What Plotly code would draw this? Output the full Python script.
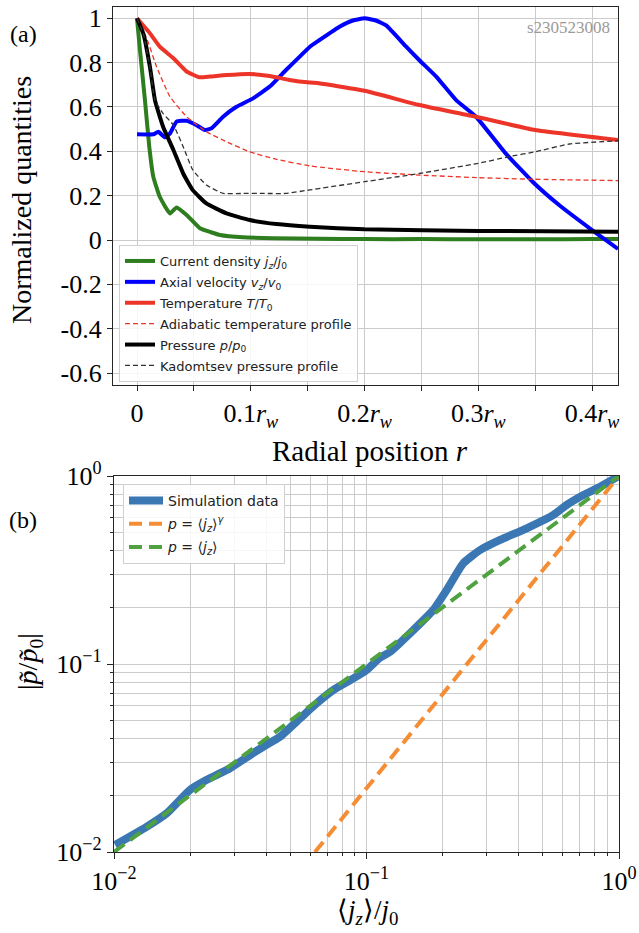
import plotly.graph_objects as go

# ---------------- panel (a) data ----------------
r_j = [0, 0.0026, 0.007, 0.0108, 0.0143, 0.020, 0.029, 0.0348, 0.0436, 0.0553, 0.065, 0.073,
       0.093, 0.12, 0.16, 0.2, 0.25, 0.3, 0.35, 0.4, 0.4228]
j_norm = [1.0, 0.857, 0.63, 0.42, 0.286, 0.195, 0.12, 0.147, 0.113, 0.053, 0.035, 0.0225,
          0.012, 0.008, 0.006, 0.004, 0.004, 0.003, 0.003, 0.004, 0.004]

r_v = [0, 0.0143, 0.0187, 0.0246, 0.029, 0.0348, 0.0436, 0.052, 0.0596, 0.0655, 0.0757, 0.0874,
       0.102, 0.1167, 0.131, 0.143, 0.152, 0.1605, 0.178, 0.1897, 0.2, 0.21, 0.219, 0.2366,
       0.248, 0.263, 0.2805, 0.298, 0.324, 0.3477, 0.371, 0.40, 0.4228]
v_norm = [0.477, 0.477, 0.488, 0.463, 0.481, 0.534, 0.538, 0.519, 0.496, 0.504, 0.556, 0.601,
          0.639, 0.692, 0.767, 0.827, 0.872, 0.902, 0.962, 0.99, 1.0, 0.99, 0.968, 0.872,
          0.812, 0.737, 0.631, 0.556, 0.391, 0.263, 0.158, 0.045, -0.04]

r_T = [0, 0.0114, 0.020, 0.032, 0.0436, 0.055, 0.064, 0.0787, 0.099, 0.1167, 0.134, 0.152,
       0.16, 0.2, 0.248, 0.298, 0.35, 0.4228]
T_norm = [1.0, 0.932, 0.872, 0.82, 0.76, 0.734, 0.737, 0.744, 0.749, 0.74, 0.722, 0.71,
          0.707, 0.673, 0.609, 0.556, 0.496, 0.451]

r_Tad = [0, 0.0085, 0.0173, 0.029, 0.0436, 0.061, 0.0787, 0.099, 0.1225, 0.152, 0.2, 0.248,
         0.3, 0.35, 0.4228]
Tad_norm = [1.0, 0.91, 0.78, 0.646, 0.556, 0.488, 0.443, 0.398, 0.364, 0.334, 0.308, 0.293,
            0.281, 0.274, 0.268]

r_p = [0, 0.0056, 0.0114, 0.0158, 0.023, 0.032, 0.0406, 0.049, 0.061, 0.0787, 0.099, 0.1225,
       0.152, 0.2, 0.3, 0.4228]
p_norm = [1.0, 0.93, 0.78, 0.63, 0.51, 0.406, 0.30, 0.225, 0.165, 0.12, 0.09, 0.072,
          0.06, 0.048, 0.041, 0.037]

r_pk = [0, 0.0056, 0.0114, 0.0158, 0.023, 0.032, 0.0406, 0.049, 0.061, 0.0757, 0.093, 0.111,
        0.131, 0.152, 0.2, 0.248, 0.3, 0.327, 0.35, 0.38, 0.4228]
pk_norm = [1.0, 0.93, 0.78, 0.63, 0.57, 0.519, 0.421, 0.316, 0.248, 0.21, 0.21, 0.21,
           0.21, 0.226, 0.263, 0.30, 0.346, 0.376, 0.398, 0.433, 0.448]

xa_tickvals = [0, 0.1, 0.2, 0.3, 0.4]
xa_ticktext = ["0", "0.1<i>r<sub>w</sub></i>", "0.2<i>r<sub>w</sub></i>",
               "0.3<i>r<sub>w</sub></i>", "0.4<i>r<sub>w</sub></i>"]
xa_minor = [0.05, 0.15, 0.25, 0.35]
ya_tickvals = [-0.6, -0.4, -0.2, 0, 0.2, 0.4, 0.6, 0.8, 1.0]
ya_ticktext = ["-0.6", "-0.4", "-0.2", "0", "0.2", "0.4", "0.6", "0.8", "1"]

# ---------------- panel (b) data ----------------
jz_sim = [0.0101, 0.0135, 0.0162, 0.0200, 0.0233, 0.0288, 0.0346, 0.0390, 0.0454, 0.0546,
          0.0635, 0.0740, 0.0887, 0.100, 0.113, 0.124, 0.149, 0.184, 0.208, 0.242, 0.282,
          0.338, 0.431, 0.550, 0.621, 0.723, 0.841, 1.0]
p_sim = [0.0109, 0.01365, 0.0161, 0.0214, 0.0242, 0.0279, 0.0328, 0.0363, 0.0410, 0.0514,
         0.0618, 0.0728, 0.0839, 0.0929, 0.108, 0.116, 0.146, 0.194, 0.248, 0.344, 0.404,
         0.457, 0.527, 0.621, 0.702, 0.792, 0.877, 1.0]
jz_gamma = [0.0625, 1.0]
p_gamma = [0.01, 1.0]
jz_lin = [0.01, 1.0]
p_lin = [0.01, 1.0]

b_major = [0.01, 0.1, 1]
b_major_text = ["10<sup>−2</sup>", "10<sup>−1</sup>", "10<sup>0</sup>"]
b_minor = [k * 0.01 for k in range(2, 10)] + [k * 0.1 for k in range(2, 10)]

W, H = 639, 933
def px(x): return x / W
def py(y): return 1 - y / H

SERIF = "Liberation Serif"
SANS = "DejaVu Sans"
GRID = "#cbcbcb"
AXC = "#262626"

fig = go.Figure()

top_lw = 4
def top_trace(x, y, name, color, width, dash=None, grp=""):
    fig.add_trace(go.Scatter(x=x, y=y, mode="lines",
                             line=dict(color=color, width=width, dash=dash, shape="spline",
                                       smoothing=0.4),
                             name=name, legendgroup=grp,
                             xaxis="x", yaxis="y", legend="legend"))

top_trace(r_j, j_norm, "Current density <i>j<sub>z</sub></i>/<i>j</i><sub>0</sub>", "#2e7d1f", top_lw, grp="a1")
top_trace(r_v, v_norm, "Axial velocity <i>v<sub>z</sub></i>/<i>v</i><sub>0</sub>", "#0000ff", top_lw, grp="a2")
top_trace(r_T, T_norm, "Temperature <i>T</i>/<i>T</i><sub>0</sub>", "#ec3528", top_lw, grp="a3")
top_trace(r_Tad, Tad_norm, "Adiabatic temperature profile", "#ec3528", 1.3, "5px,3px", grp="a4")
top_trace(r_p, p_norm, "Pressure <i>p</i>/<i>p</i><sub>0</sub>", "#000000", top_lw, grp="a5")
top_trace(r_pk, pk_norm, "Kadomtsev pressure profile", "#333333", 1.3, "5px,3px", grp="a6")

fig.add_trace(go.Scatter(x=jz_sim, y=p_sim, mode="lines",
                         line=dict(color="#3a77b3", width=8, shape="spline", smoothing=0.5),
                         name="Simulation data", legendgroup="b1",
                         xaxis="x2", yaxis="y2", legend="legend2"))
fig.add_trace(go.Scatter(x=jz_gamma, y=p_gamma, mode="lines",
                         line=dict(color="#f58d35", width=4, dash="13px,7px"),
                         name="<i>p</i> = ⟨<i>j<sub>z</sub></i>⟩<sup><i>γ</i></sup>", legendgroup="b2",
                         xaxis="x2", yaxis="y2", legend="legend2"))
fig.add_trace(go.Scatter(x=jz_lin, y=p_lin, mode="lines",
                         line=dict(color="#4fa23f", width=4, dash="13px,7px"),
                         name="<i>p</i> = ⟨<i>j<sub>z</sub></i>⟩", legendgroup="b3",
                         xaxis="x2", yaxis="y2", legend="legend2"))

common_ax = dict(ticks="outside", tickcolor=AXC, tickwidth=1, automargin=False,
                 showgrid=True, gridcolor=GRID, gridwidth=1.3, zeroline=False,
                 showline=True, linecolor=AXC, linewidth=1.2, mirror=True,
                 tickfont=dict(family=SERIF, size=26, color="black"))

def ann(text, x, y, size, angle=0, color="black", xanchor="center"):
    return dict(text=text, x=px(x), y=py(y), xref="paper", yref="paper", showarrow=False,
                xanchor=xanchor, yanchor="middle", textangle=angle,
                font=dict(family=SERIF, size=size, color=color))

fig.update_layout(
    width=W, height=H, autosize=False,
    margin=dict(l=0, r=0, t=0, b=0),
    paper_bgcolor="white", plot_bgcolor="white",
    showlegend=True,
    xaxis=dict(domain=[px(113), px(618)], range=[-0.0211, 0.4228], anchor="y",
               tickmode="array", tickvals=xa_tickvals, ticktext=xa_ticktext, ticklen=5,
               minor=dict(tickmode="array", tickvals=xa_minor, ticks="outside", ticklen=5,
                          tickcolor=AXC, showgrid=True, gridcolor=GRID, gridwidth=1.3),
               **common_ax),
    yaxis=dict(domain=[py(385), py(7)], range=[-0.654, 1.051], anchor="x",
               tickmode="array", tickvals=ya_tickvals, ticktext=ya_ticktext, ticklen=5,
               **common_ax),
    xaxis2=dict(domain=[px(114), px(619)], type="log", range=[-2, 0], anchor="y2",
                tickmode="array", tickvals=b_major, ticktext=b_major_text, ticklen=6,
                minor=dict(tickmode="array", tickvals=b_minor, ticks="outside", ticklen=3,
                           tickcolor=AXC, showgrid=True, gridcolor=GRID, gridwidth=1.3),
                **common_ax),
    yaxis2=dict(domain=[py(852), py(476)], type="log", range=[-2, 0], anchor="x2",
                tickmode="array", tickvals=b_major, ticktext=b_major_text, ticklen=6,
                minor=dict(tickmode="array", tickvals=b_minor, ticks="outside", ticklen=3,
                           tickcolor=AXC, showgrid=True, gridcolor=GRID, gridwidth=1.3),
                **common_ax),
    legend=dict(x=px(119), y=py(245), xanchor="left", yanchor="top",
                bgcolor="rgba(255,255,255,0.85)", bordercolor="#d0d0d0", borderwidth=1,
                font=dict(family=SANS, size=13, color="#222222"), itemwidth=30,
                tracegroupgap=1),
    legend2=dict(x=px(123), y=py(484), xanchor="left", yanchor="top",
                 bgcolor="rgba(255,255,255,0.85)", bordercolor="#d0d0d0", borderwidth=1,
                 font=dict(family=SANS, size=14, color="#222222"), itemwidth=34,
                 tracegroupgap=2),
    annotations=[
        ann("Radial position <i>r</i>", 370, 451, 29),
        ann("Normalized quantities", 21, 200, 28, angle=-90),
        ann("⟨<i>j<sub>z</sub></i>⟩/<i>j</i><sub>0</sub>", 367, 912, 27),
        ann("|<i>p̃</i>/<i>p̃</i><sub>0</sub>|", 29, 662, 28, angle=-90),
        ann("(a)", 23, 34, 24),
        ann("(b)", 23, 520, 24),
        ann("s230523008", 612, 27, 17, color="#9a9a9a", xanchor="right"),
    ],
)

fig.write_html("out.html")
